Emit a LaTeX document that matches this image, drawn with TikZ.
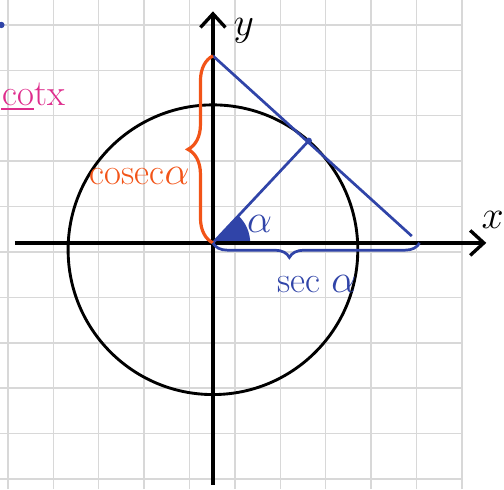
\documentclass[tikz,border=0pt]{standalone}
\usepackage{amsmath,amssymb}
\usepackage{xcolor}
\usepackage{tikz}
\usetikzlibrary{arrows.meta,decorations.pathreplacing}

\definecolor{penblue}{RGB}{48,68,168}
\definecolor{penorange}{RGB}{242,84,24}
\definecolor{penpink}{RGB}{222,44,140}
\definecolor{gridgray}{RGB}{216,216,216}

\begin{document}
\begin{tikzpicture}[
		gridline/.style={gridgray,line width=0.9pt},
		axis/.style={line width=2.1pt,-{Straight Barb[length=0.3cm,width=0.55cm,line width=2.1pt]}},
		blueline/.style={penblue,line width=1.7pt},
		hand/.style={inner sep=1pt,font=\fontsize{23}{25}\selectfont}
	]
		\useasboundingbox (-4.69,-5.42) rectangle (6.41,5.35);
		% squared paper
		\foreach \gx in {0,...,10}
			\draw[gridline] (-4.515+\gx,-5.42) -- (-4.515+\gx,5.35);
		\foreach \gy in {0,...,10}
			\draw[gridline] (-4.69,4.80-\gy) -- (5.485,4.80-\gy);
		% points
		\coordinate (O) at (0,0);
		\coordinate (M) at (0,-0.15);
		\coordinate (P) at (2.11,2.25);
		\coordinate (C) at (0,4.12);
		\coordinate (T) at (4.38,0.15);
		\coordinate (S) at (4.55,0);
		\coordinate (xs) at (-4.36,0);
		\coordinate (xe) at (6.02,0);
		\coordinate (ys) at (0,-5.33);
		\coordinate (ye) at (0,5.1);
		% angle wedge
		\fill[penblue] (O) -- (0.82,0) arc (0:47:0.82) -- cycle;
		% axes and circle
		\draw[axis] (xs) -- (xe);
		\draw[axis] (ys) -- (ye);
		\draw[line width=1.8pt] (M) circle (3.19);
		\node[hand] (ylab) at (0.68,4.68) {$y$};
		\node[hand] (xlab) at (6.16,0.50) {$x$};
		% radius and tangent
		\draw[blueline] (O) -- (P);
		\draw[blueline] (C) -- (T);
		\fill[penblue] (P) circle (2pt);
		\node[hand,penblue] (alab) at (1.03,0.42) {$\alpha$};
		% braces
		\draw[penorange,line width=2pt,decorate,decoration={brace,amplitude=0.55cm}] (O) -- (C);
		\node[hand,penorange] (cosec) at (-1.61,1.48) {cosec$\alpha$};
		\draw[penblue,line width=1.7pt,decorate,decoration={brace,amplitude=0.32cm,aspect=0.63}] (S) -- (O);
		\node[hand,penblue] (sec) at (2.29,-0.9) {sec $\alpha$};
		% bits at the edge
		\node[hand,penpink] (cot) at (-3.94,3.28) {cotx};
		\coordinate (u1) at (-4.66,2.95);
		\coordinate (u2) at (-3.95,2.95);
		\draw[penpink,line width=1.8pt] (u1) -- (u2);
		\fill[penblue] (-4.66,4.80) circle (2pt);
	\end{tikzpicture}
\end{document}
